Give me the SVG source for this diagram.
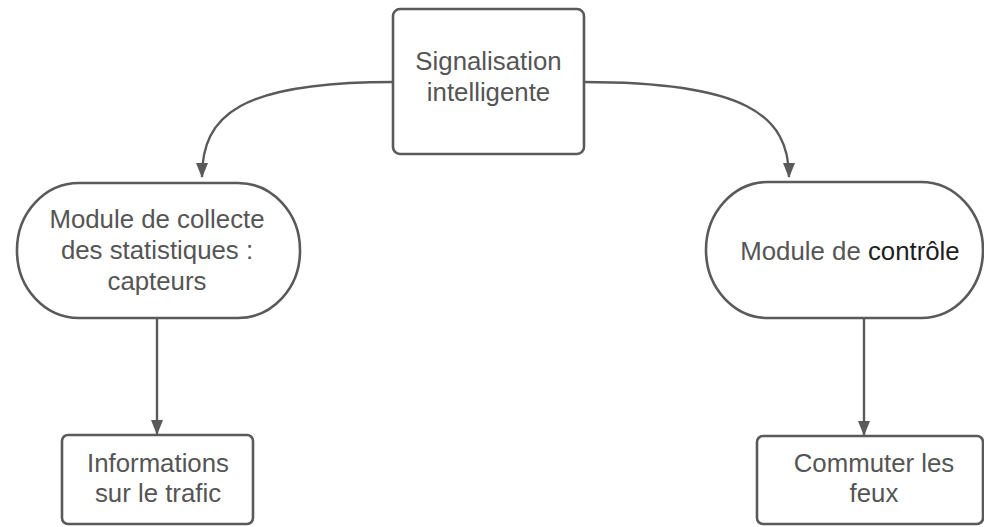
<svg xmlns="http://www.w3.org/2000/svg" width="984" height="527" viewBox="0 0 984 527">
<style>
.node{fill:#fff;stroke:#5a5a5a;stroke-width:2.6}
.lbl{font-family:"Liberation Sans",Arial,sans-serif;font-size:25.8px;fill:#555;text-anchor:middle}
.edge{fill:none;stroke:#5a5a5a;stroke-width:2.4}
</style>
<defs>
<marker id="arr" viewBox="0 0 15 12" refX="14" refY="6" markerWidth="15" markerHeight="12" markerUnits="userSpaceOnUse" orient="auto">
<path d="M0,0 L15,6 L0,12 Z" fill="#5a5a5a"/>
</marker>
</defs>
<rect width="984" height="527" fill="#fff"/>
<g id="connectors">
<path class="edge" d="M393,82 C240,82 202,115 202,177" marker-end="url(#arr)"/>
<path class="edge" d="M584,82 C745,82 789,115 789,177" marker-end="url(#arr)"/>
<path class="edge" d="M157,318 L157,434" marker-end="url(#arr)"/>
<path class="edge" d="M864,318 L864,435" marker-end="url(#arr)"/>
</g>
<g id="n_signalisation">
<rect class="node" x="393" y="9" width="191" height="145" rx="7"/>
<text class="lbl" x="488.5" y="70">Signalisation</text>
<text class="lbl" x="488.5" y="101">intelligente</text>
</g>
<g id="n_collecte">
<rect class="node" x="17" y="183" width="283" height="135" rx="62" ry="67"/>
<text class="lbl" x="157" y="228">Module de collecte</text>
<text class="lbl" x="157" y="259">des statistiques :</text>
<text class="lbl" x="157" y="290">capteurs</text>
</g>
<g id="n_controle">
<rect class="node" x="706" y="182" width="277" height="136" rx="62" ry="68"/>
<text class="lbl" x="850" y="260">Module de <tspan fill="#1e1e1e">contrôle</tspan></text>
</g>
<g id="n_info">
<rect class="node" x="62" y="435" width="191" height="89" rx="6"/>
<text class="lbl" x="158" y="472">Informations</text>
<text class="lbl" x="158" y="502">sur le trafic</text>
</g>
<g id="n_commuter">
<rect class="node" x="757" y="436" width="226" height="88" rx="6"/>
<text class="lbl" x="874" y="472">Commuter les</text>
<text class="lbl" x="874" y="502">feux</text>
</g>
</svg>
